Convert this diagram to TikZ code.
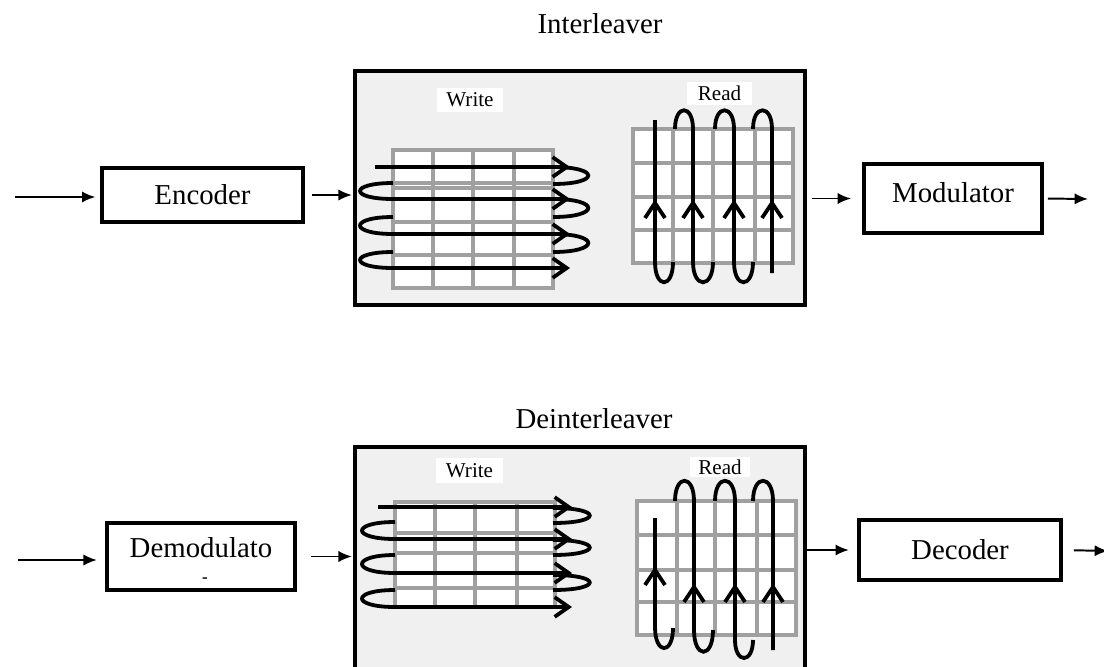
\documentclass[tikz,border=0pt]{standalone}
\usepackage{fontspec}
\setmainfont{Liberation Serif}
\usetikzlibrary{arrows.meta}
\definecolor{panelgray}{RGB}{240,240,240}
\definecolor{cellgray}{RGB}{160,160,160}

\begin{document}
\begin{tikzpicture}[x=0.025cm,y=-0.025cm,
  blk/.style={draw,line width=2.4pt,fill=white,font=\fontsize{20.5}{24}\selectfont},
  panel/.style={draw,line width=2.4pt,fill=panelgray,minimum width=11.25cm},
  lbl/.style={fill=white,inner sep=0pt,font=\fontsize{15}{18}\selectfont},
  ttl/.style={anchor=base,font=\fontsize{20.5}{24}\selectfont},
  flow/.style={-{Latex[length=9.5pt,width=8pt]},line width=1.4pt},
  lane/.style={line width=2.7pt},
  rowrun/.style={lane,-{Straight Barb[length=10pt,width=14pt]}},
  cell/.style={cellgray,line width=2.2pt,line cap=rect}]
  \useasboundingbox (0,0) rectangle (1104,666);

  % interleaver panel
  \node[ttl] (ilvname) at (600,33) {Interleaver};
  \node[panel,minimum height=5.85cm] (ilv) at (580,188) {};
  \node[lbl,minimum width=1.65cm,minimum height=0.6cm] (wr1) at (470,100) {Write};
  \node[lbl,minimum width=1.62cm,minimum height=0.58cm] (rd1) at (719.5,93.5) {Read};

  % write matrix, rows
  \fill[white] (393,150) rectangle (553,288);
  \foreach \x in {393,433,473,514,553} \draw[cell] (\x,150) -- (\x,288);
  \foreach \y in {150,183,188,222,255,288} \draw[cell] (393,\y) -- (553,\y);
  \draw[rowrun] (375,167) -- (570,167);
  \foreach \a/\b in {183/199,217/234,252/268}
    \draw[rowrun] (393,\a) .. controls (349,\a) and (349,\b) .. (393,\b) -- (570,\b);
  \foreach \a/\b in {167/184,199/217,234/252}
    \draw[lane] (553,\a) .. controls (600,\a) and (600,\b) .. (553,\b);

  % read matrix, columns
  \fill[white] (633,129) rectangle (793,263);
  \foreach \x in {633,673,713,755,793} \draw[cell] (\x,129) -- (\x,263);
  \foreach \y in {129,163,197,230,263} \draw[cell] (633,\y) -- (793,\y);
  \draw[lane] (655,120) -- (655,262) .. controls (655,289) and (673,289) .. (673,262);
  \draw[lane] (675,129) .. controls (675,104) and (693,104) .. (693,129) -- (693,262)
    .. controls (693,289) and (713,289) .. (713,262);
  \draw[lane] (715,129) .. controls (715,104) and (734,104) .. (734,129) -- (734,262)
    .. controls (734,289) and (753,289) .. (753,262);
  \draw[lane] (753,129) .. controls (753,104) and (772,104) .. (772,129) -- (772,273);
  \foreach \x in {655,693,734,772}
    \draw[lane] (\x-10,218) -- (\x,203) -- (\x+10,218);

  % transmitter chain
  \node[blk,minimum width=5.025cm,minimum height=1.35cm] (enc) at (202.5,195) {Encoder};
  \node[blk,minimum width=4.45cm,minimum height=1.725cm] (mod) at (953,198.5)
    {\raisebox{4pt}[\height][\depth]{Modulator}};
  \coordinate (src) at (15,197);
  \coordinate (snk) at (1088,199);
  \draw[flow,shorten >=3.5pt] (src) -- (enc.west |- src);
  \draw[flow,shorten <=5pt,shorten >=1pt] (enc.east) -- (ilv.west |- enc.east);
  \draw[flow,shorten <=4pt,shorten >=8pt] (ilv.east |- mod.west) -- (mod.west);
  \draw[flow,shorten <=3pt] (mod.east) -- (snk);

  % deinterleaver panel
  \node[ttl] (dlvname) at (594,428) {Deinterleaver};
  \node[panel,minimum height=5.575cm] (dlv) at (580,558.5) {};
  \node[lbl,minimum width=1.67cm,minimum height=0.62cm] (wr2) at (469.5,470.5) {Write};
  \node[lbl,minimum width=1.5cm,minimum height=0.5cm] (rd2) at (720,467) {Read};

  % write matrix, rows
  \fill[white] (395,502) rectangle (555,607);
  \foreach \x in {395,435,475,517,555} \draw[cell] (\x,502) -- (\x,607);
  \foreach \y in {502,533,553,588,607} \draw[cell] (395,\y) -- (555,\y);
  \draw[rowrun] (378,507) -- (572,507);
  \foreach \a/\b in {522/539,555/573,590/607}
    \draw[rowrun] (395,\a) .. controls (351,\a) and (351,\b) .. (395,\b) -- (572,\b);
  \foreach \a/\b in {508/523,540/555,575/590}
    \draw[lane] (553,\a) .. controls (602,\a) and (602,\b) .. (553,\b);

  % read matrix, columns
  \fill[white] (637,501) rectangle (796,635);
  \foreach \x in {637,677,715,757,796} \draw[cell] (\x,501) -- (\x,635);
  \foreach \y in {501,535,570,602,635} \draw[cell] (637,\y) -- (796,\y);
  \draw[lane] (655,518) -- (655,627) .. controls (655,655) and (673,655) .. (673,628);
  \draw[lane] (675,501) .. controls (675,474) and (694,474) .. (694,501) -- (694,630)
    .. controls (694,659) and (713,659) .. (713,630);
  \draw[lane] (715,501) .. controls (715,474) and (735,474) .. (735,501) -- (735,640)
    .. controls (735,664) and (753,664) .. (753,640);
  \draw[lane] (753,501) .. controls (753,474) and (773,474) .. (773,501) -- (773,650);
  \foreach \x/\t in {655/570,694/587,735/587,773/587}
    \draw[lane] (\x-10,\t+15) -- (\x,\t) -- (\x+10,\t+15);

  % receiver chain
  \node[blk,minimum width=4.7cm,minimum height=1.675cm] (dem) at (201,556.5)
    {\raisebox{6pt}[\height][\depth]{Demodulato}};
  \node[font=\fontsize{12}{12}\selectfont\bfseries,inner sep=0pt] (demr) at (205,580) {-};
  \node[blk,minimum width=5.05cm,minimum height=1.5cm] (dec) at (960,550) {Decoder};
  \coordinate (src2) at (18,560);
  \coordinate (snk2) at (1108,551);
  \draw[flow,shorten >=6pt] (src2) -- (dem.west |- src2);
  \draw[flow,shorten <=10pt,shorten >=1pt] (dem.east) -- (dlv.west |- dem.east);
  \draw[flow,shorten >=6pt] (dlv.east |- dec.west) -- (dec.west);
  \draw[flow,shorten <=8pt] (dec.east) -- (snk2);
\end{tikzpicture}
\end{document}
